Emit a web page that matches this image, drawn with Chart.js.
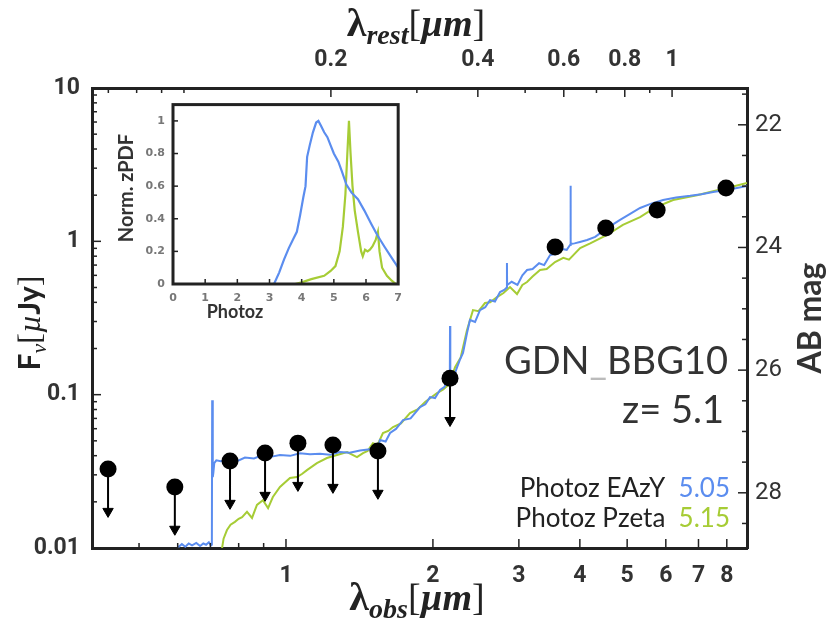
<!DOCTYPE html>
<html>
<head>
<meta charset="utf-8">
<script src="https://cdn.jsdelivr.net/npm/chart.js@4.4.1/dist/chart.umd.min.js"></script>
<style>
body { margin: 0; background: #fff; }
#wrap { position: relative; width: 830px; height: 623px; }
#main { position: absolute; left: 0; top: 0; }
#inset { position: absolute; left: 105px; top: 90px; }
</style>
</head>
<body>
<div id="wrap">
<canvas id="main" width="830" height="623"></canvas>
<canvas id="inset" width="305" height="240"></canvas>
</div>
<script>
// photometry, lambda_obs in micron, flux in uJy (first eight are upper limits)
const bandLam = [0.432, 0.592, 0.768, 0.906, 1.058, 1.248, 1.543, 2.168, 3.56, 4.52, 5.76, 7.97];
const bandFlux = [0.0327, 0.0250, 0.0369, 0.0416, 0.0483, 0.0469, 0.0429, 0.128, 0.918, 1.22, 1.60, 2.23];
const upperLimit = [1, 1, 1, 1, 1, 1, 1, 1, 0, 0, 0, 0];

// best-fit SED, EAzY
const eazyLam = [0.601, 0.612, 0.622, 0.632, 0.642, 0.655, 0.667, 0.677, 0.686, 0.695, 0.702, 0.705, 0.706, 0.708, 0.710, 0.713, 0.72, 0.735, 0.768, 0.80, 0.824, 0.86, 0.885, 0.93, 0.972, 1.02, 1.068, 1.12, 1.174, 1.23, 1.29, 1.35, 1.418, 1.486, 1.52, 1.543, 1.558, 1.60, 1.634, 1.68, 1.737, 1.80, 1.882, 1.93, 1.973, 2.02, 2.068, 2.11, 2.148, 2.166, 2.168, 2.171, 2.20, 2.24, 2.27, 2.305, 2.349, 2.382, 2.44, 2.497, 2.56, 2.618, 2.68, 2.745, 2.80, 2.834, 2.836, 2.838, 2.90, 2.98, 3.05, 3.118, 3.20, 3.30, 3.38, 3.476, 3.58, 3.68, 3.76, 3.819, 3.826, 3.83, 3.834, 3.90, 4.0, 4.139, 4.30, 4.548, 4.835, 5.05, 5.314, 5.6, 5.923, 6.3, 6.73, 7.1, 7.50, 8.1, 8.80];
const eazyFlux = [0.0101, 0.0106, 0.0102, 0.0107, 0.0104, 0.0108, 0.0103, 0.0107, 0.0105, 0.0109, 0.0104, 0.0105, 0.092, 0.029, 0.031, 0.0358, 0.0373, 0.0368, 0.0378, 0.0372, 0.0389, 0.0384, 0.0398, 0.0393, 0.0404, 0.0399, 0.0415, 0.0408, 0.0412, 0.0405, 0.0423, 0.0418, 0.0433, 0.0441, 0.0470, 0.0452, 0.0506, 0.0495, 0.0562, 0.0598, 0.0683, 0.0700, 0.0830, 0.0865, 0.0964, 0.0950, 0.1072, 0.112, 0.1245, 0.125, 0.28, 0.126, 0.128, 0.150, 0.168, 0.187, 0.252, 0.307, 0.298, 0.356, 0.372, 0.414, 0.405, 0.467, 0.482, 0.50, 0.722, 0.519, 0.545, 0.52, 0.60, 0.650, 0.66, 0.72, 0.70, 0.814, 0.83, 0.89, 0.88, 0.946, 2.30, 0.95, 0.96, 0.97, 0.99, 1.02, 1.07, 1.22, 1.38, 1.50, 1.65, 1.76, 1.86, 1.93, 1.98, 2.03, 2.10, 2.18, 2.30];

// best-fit SED, Pzeta
const pzetaLam = [0.739, 0.745, 0.757, 0.770, 0.786, 0.800, 0.813, 0.832, 0.852, 0.872, 0.897, 0.919, 0.940, 0.972, 1.019, 1.053, 1.080, 1.104, 1.157, 1.213, 1.272, 1.334, 1.398, 1.438, 1.47, 1.507, 1.54, 1.580, 1.62, 1.657, 1.72, 1.795, 1.86, 1.93, 2.039, 2.10, 2.16, 2.220, 2.28, 2.349, 2.416, 2.48, 2.557, 2.62, 2.706, 2.79, 2.877, 2.974, 3.05, 3.118, 3.20, 3.315, 3.42, 3.558, 3.70, 3.80, 4.005, 4.2, 4.548, 4.9, 5.314, 5.7, 6.21, 6.95, 7.5, 8.01, 8.80];
const pzetaFlux = [0.0098, 0.0115, 0.0131, 0.0142, 0.0148, 0.0155, 0.0159, 0.0172, 0.0157, 0.0191, 0.0205, 0.0182, 0.0215, 0.0250, 0.0286, 0.0290, 0.0305, 0.0322, 0.0358, 0.0386, 0.0404, 0.0422, 0.0392, 0.0416, 0.0430, 0.0483, 0.0470, 0.0562, 0.0580, 0.0615, 0.0650, 0.0759, 0.080, 0.090, 0.1023, 0.108, 0.117, 0.151, 0.175, 0.264, 0.356, 0.350, 0.396, 0.40, 0.433, 0.46, 0.503, 0.453, 0.52, 0.543, 0.59, 0.650, 0.66, 0.733, 0.78, 0.76, 0.904, 0.97, 1.10, 1.28, 1.44, 1.66, 1.86, 2.00, 2.12, 2.23, 2.40];

// inset: normalised redshift PDFs
const zEazy = [3.14, 3.3, 3.45, 3.6, 3.75, 3.85, 3.95, 4.05, 4.12, 4.17, 4.25, 4.35, 4.45, 4.52, 4.6, 4.7, 4.8, 4.9, 5.0, 5.14, 5.25, 5.39, 5.55, 5.75, 5.95, 6.16, 6.35, 6.57, 6.8, 7.0];
const pdfEazy = [0, 0.07, 0.15, 0.22, 0.28, 0.32, 0.42, 0.53, 0.6, 0.78, 0.85, 0.93, 0.99, 1.0, 0.97, 0.93, 0.9, 0.85, 0.8, 0.75, 0.69, 0.61, 0.56, 0.52, 0.45, 0.37, 0.3, 0.23, 0.16, 0.1];
const zPzeta = [3.8, 4.0, 4.3, 4.7, 4.9, 5.05, 5.18, 5.28, 5.36, 5.42, 5.47, 5.52, 5.58, 5.65, 5.75, 5.85, 5.9, 5.97, 6.05, 6.12, 6.2, 6.3, 6.37, 6.42, 6.5, 6.65, 6.8, 6.93];
const pdfPzeta = [0, 0.01, 0.03, 0.05, 0.08, 0.11, 0.2, 0.35, 0.55, 0.8, 1.0, 0.8, 0.6, 0.45, 0.32, 0.2, 0.17, 0.21, 0.2, 0.21, 0.23, 0.27, 0.32, 0.2, 0.1, 0.05, 0.02, 0];

// tick labels
const obsLabels = [1, 2, 3, 4, 5, 6, 7, 8];
const restLabels = [0.2, 0.4, 0.6, 0.8, 1];
const fluxLabels = [0.01, 0.1, 1, 10];
const magLabels = [22, 24, 26, 28];
const zLabels = [0, 1, 2, 3, 4, 5, 6, 7];
const pdfLabels = [0, 0.2, 0.4, 0.6, 0.8, 1];

// tick marks
const obsMarks = [0.5, 0.6, 0.7, 0.8, 0.9, 1, 2, 3, 4, 5, 6, 7, 8];
const restMarks = [0.07, 0.08, 0.09, 0.1, 0.2, 0.3, 0.4, 0.5, 0.6, 0.7, 0.8, 0.9, 1];
const magMarks = [21.5, 22, 22.5, 23, 23.5, 24, 24.5, 25, 25.5, 26, 26.5, 27, 27.5, 28, 28.5];

const xMin = 0.4005, xMax = 8.8, yMin = 0.01, yMax = 10;
const restFactor = 6.18;   // 1 + z used for the top axis
const magZero = 23.9;      // AB mag of 1 uJy

const blue = '#5b8def';
const green = '#a6cc35';
const ink = '#222';

const fluxMarks = [];
for (let e = -2; e <= 0; e++) {
  for (let m = 1; m <= 9; m++) fluxMarks.push(m * Math.pow(10, e));
}
fluxMarks.push(10);

const near = (list, v) => list.find(l => Math.abs(l - v) <= 1e-6 * Math.max(1, Math.abs(l)));

const pts = (xs, ys) => xs.map((x, i) => ({ x: x, y: ys[i] }));

// arrows for the upper limits
const shaft = [];
const heads = [];
bandLam.forEach((l, i) => {
  if (!upperLimit[i]) return;
  shaft.push({ x: l, y: bandFlux[i] }, { x: l, y: bandFlux[i] * 0.53 }, { x: l, y: null });
  heads.push({ x: l, y: bandFlux[i] * 0.53 });
});

// ticks pointing into the plot
const inwardTicks = {
  id: 'inwardTicks',
  afterDatasetsDraw(chart, args, opts) {
    const { ctx, chartArea: a } = chart;
    ctx.save();
    ctx.strokeStyle = ink;
    ctx.lineWidth = opts.width || 1.5;
    Object.values(chart.scales).forEach(s => {
      s.ticks.forEach(t => {
        const p = s.getPixelForValue(t.value);
        const len = t.label !== '' && t.label !== undefined ? opts.major : opts.minor;
        ctx.beginPath();
        if (s.position === 'bottom') { ctx.moveTo(p, a.bottom); ctx.lineTo(p, a.bottom - len); }
        if (s.position === 'top') { ctx.moveTo(p, a.top); ctx.lineTo(p, a.top + len); }
        if (s.position === 'left') { ctx.moveTo(a.left, p); ctx.lineTo(a.left + len, p); }
        if (s.position === 'right') { ctx.moveTo(a.right, p); ctx.lineTo(a.right - len, p); }
        ctx.stroke();
      });
    });
    ctx.restore();
  }
};

function richText(ctx, parts, x, y, align) {
  let w = 0;
  parts.forEach(p => { ctx.font = p[1]; w += ctx.measureText(p[0]).width; });
  let cx = align === 'center' ? x - w / 2 : align === 'right' ? x - w : x;
  ctx.textAlign = 'left';
  ctx.textBaseline = 'alphabetic';
  parts.forEach(p => {
    ctx.font = p[1];
    ctx.fillStyle = p[3] || ink;
    ctx.fillText(p[0], cx, y + (p[2] || 0));
    cx += ctx.measureText(p[0]).width;
  });
}

const serif = 'Liberation Serif';
const sans = 'Lato';

const mainText = {
  id: 'mainText',
  afterDraw(chart) {
    const ctx = chart.ctx;
    ctx.save();
    // axis titles
    richText(ctx, [
      ['λ', 'bold 40px ' + serif], ['rest', 'bold italic 28px ' + serif, 8],
      ['[', '38px ' + serif], ['µm', 'bold italic 38px ' + serif], [']', '38px ' + serif]
    ], 416, 36, 'center');
    richText(ctx, [
      ['λ', 'bold 40px ' + serif], ['obs', 'bold italic 28px ' + serif, 8],
      ['[', '38px ' + serif], ['µm', 'bold italic 38px ' + serif], [']', '38px ' + serif]
    ], 417, 610, 'center');
    ctx.save();
    ctx.translate(40, 323);
    ctx.rotate(-Math.PI / 2);
    richText(ctx, [
      ['F', 'bold 30px ' + sans], ['ν', 'italic 22px ' + serif, 6],
      ['[', '32px ' + serif], ['µ', 'italic 32px ' + serif], ['Jy', 'bold 30px ' + sans], [']', '32px ' + serif]
    ], 0, 0, 'center');
    ctx.restore();
    ctx.save();
    ctx.translate(821, 318);
    ctx.rotate(-Math.PI / 2);
    richText(ctx, [['AB mag', 'bold 32px ' + sans, 0, '#333']], 0, 0, 'center');
    ctx.restore();
    // object name and redshift
    richText(ctx, [['GDN', '38px ' + sans, 0, '#333'], ['_', '38px ' + sans, 0, '#bbb'], ['BBG10', '38px ' + sans, 0, '#333']], 728, 374, 'right');
    richText(ctx, [['z= 5.1', '38px ' + sans, 0, '#333']], 724, 423, 'right');
    // photo-z legend
    richText(ctx, [['Photoz EAzY  ', '26px ' + sans, 0, '#222'], ['5.05', '26px ' + sans, 0, blue]], 730, 497, 'right');
    richText(ctx, [['Photoz Pzeta  ', '26px ' + sans, 0, '#222'], ['5.15', '26px ' + sans, 0, green]], 730, 527, 'right');
    ctx.restore();
  }
};

const tickFont = { family: 'Roboto', weight: 'bold', size: 23 };

new Chart(document.getElementById('main'), {
  type: 'scatter',
  data: {
    datasets: [
      { data: pts(bandLam, bandFlux), backgroundColor: '#000', borderColor: '#000', pointRadius: 8.5, borderWidth: 0 },
      { data: heads, pointStyle: 'triangle', rotation: 180, pointRadius: 6, backgroundColor: '#000', borderColor: '#000', borderWidth: 1 },
      { data: shaft, showLine: true, spanGaps: false, borderColor: '#000', borderWidth: 2, pointRadius: 0 },
      { data: pts(eazyLam, eazyFlux), showLine: true, borderColor: blue, borderWidth: 2, pointRadius: 0 },
      { data: pts(pzetaLam, pzetaFlux), showLine: true, borderColor: green, borderWidth: 2, pointRadius: 0 }
    ]
  },
  options: {
    responsive: false,
    animation: false,
    devicePixelRatio: 1,
    layout: { padding: 0 },
    plugins: { legend: { display: false }, tooltip: { enabled: false }, inwardTicks: { major: 9, minor: 5 } },
    scales: {
      x: {
        type: 'logarithmic', position: 'bottom', min: xMin, max: xMax,
        grid: { display: false, drawTicks: false }, border: { display: true, width: 3, color: ink },
        ticks: { autoSkip: false, maxRotation: 0, padding: 14, color: '#333', font: tickFont,
          callback: v => { const l = near(obsLabels, v); return l !== undefined ? String(l) : ''; } },
        afterBuildTicks: s => { s.ticks = obsMarks.map(v => ({ value: v })); },
        afterFit: s => { s.height = 75; }
      },
      x2: {
        type: 'logarithmic', position: 'top', axis: 'x', min: xMin / restFactor, max: xMax / restFactor,
        grid: { display: false, drawTicks: false }, border: { display: true, width: 3, color: ink },
        ticks: { autoSkip: false, maxRotation: 0, padding: 14, color: '#333', font: tickFont,
          callback: v => { const l = near(restLabels, v); return l !== undefined ? String(l) : ''; } },
        afterBuildTicks: s => { s.ticks = restMarks.map(v => ({ value: v })); },
        afterFit: s => { s.height = 88; }
      },
      y: {
        type: 'logarithmic', position: 'left', min: yMin, max: yMax,
        grid: { display: false, drawTicks: false }, border: { display: true, width: 3, color: ink },
        ticks: { autoSkip: false, padding: 12, color: '#333', font: tickFont,
          callback: v => { const l = near(fluxLabels, v); return l !== undefined ? String(l) : ''; } },
        afterBuildTicks: s => { s.ticks = fluxMarks.map(v => ({ value: v })); },
        afterFit: s => { s.width = 92; }
      },
      y2: {
        type: 'linear', position: 'right', axis: 'y', reverse: true,
        min: magZero - 2.5 * Math.log10(yMax), max: magZero - 2.5 * Math.log10(yMin),
        grid: { display: false, drawTicks: false }, border: { display: true, width: 3, color: ink },
        ticks: { autoSkip: false, padding: 8, color: '#333', font: { family: 'Roboto', size: 24 },
          callback: v => { const l = near(magLabels, v); return l !== undefined ? String(l) : ''; } },
        afterBuildTicks: s => { s.ticks = magMarks.map(v => ({ value: v })); },
        afterFit: s => { s.width = 83; }
      }
    }
  },
  plugins: [inwardTicks, mainText]
});

const insetDeco = {
  id: 'insetDeco',
  beforeDraw(chart) {
    const { ctx, chartArea: a } = chart;
    ctx.save();
    ctx.fillStyle = '#fff';
    ctx.fillRect(a.left - 2, a.top - 2, a.right - a.left + 4, a.bottom - a.top + 4);
    ctx.restore();
  },
  afterDraw(chart) {
    const { ctx, chartArea: a } = chart;
    ctx.save();
    ctx.strokeStyle = ink;
    ctx.lineWidth = 3;
    ctx.strokeRect(a.left, a.top, a.right - a.left, a.bottom - a.top);
    ctx.save();
    ctx.translate(21, 98);
    ctx.rotate(-Math.PI / 2);
    richText(ctx, [['Norm. zPDF', 'bold 20px ' + sans, 0, '#333']], 0, 7, 'center');
    ctx.restore();
    richText(ctx, [['Photoz', 'bold 18px ' + sans, 0, '#333']], 130, 228, 'center');
    ctx.restore();
  }
};

const insetTickFont = { family: 'DejaVu Sans', weight: 'bold', size: 11 };

new Chart(document.getElementById('inset'), {
  type: 'scatter',
  data: {
    datasets: [
      { data: pts(zEazy, pdfEazy), showLine: true, borderColor: blue, borderWidth: 2.2, pointRadius: 0 },
      { data: pts(zPzeta, pdfPzeta), showLine: true, borderColor: green, borderWidth: 2.2, pointRadius: 0 }
    ]
  },
  options: {
    responsive: false,
    animation: false,
    devicePixelRatio: 1,
    layout: { padding: { left: 0, right: 8, top: 10, bottom: 0 } },
    plugins: { legend: { display: false }, tooltip: { enabled: false }, inwardTicks: { major: 5, minor: 5 } },
    scales: {
      x: {
        type: 'linear', min: 0, max: 7,
        grid: { display: false, drawTicks: false }, border: { display: false },
        ticks: { autoSkip: false, maxRotation: 0, padding: 8, color: '#777', font: insetTickFont, callback: v => String(v) },
        afterBuildTicks: s => { s.ticks = zLabels.map(v => ({ value: v })); },
        afterFit: s => { s.height = 46; }
      },
      y: {
        type: 'linear', min: 0, max: 1.1,
        grid: { display: false, drawTicks: false }, border: { display: false },
        ticks: { autoSkip: false, padding: 8, color: '#777', font: insetTickFont, callback: v => String(v) },
        afterBuildTicks: s => { s.ticks = pdfLabels.map(v => ({ value: v })); },
        afterFit: s => { s.width = 68; }
      }
    }
  },
  plugins: [insetDeco, inwardTicks]
});
</script>
</body>
</html>
